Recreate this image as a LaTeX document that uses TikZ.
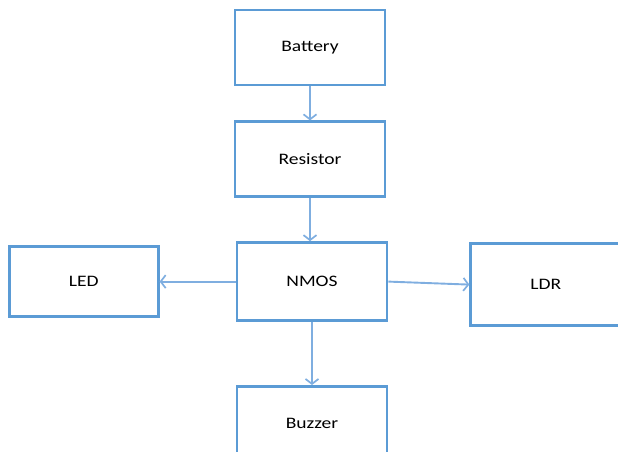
\documentclass[tikz,border=0pt]{standalone}
\usepackage{fontspec}
\setmainfont[FakeStretch=1.22]{Carlito}
\usetikzlibrary{arrows.meta,positioning}

\definecolor{boxblue}{HTML}{5B9BD5}
\definecolor{linkblue}{HTML}{7FAEE0}

\begin{document}
\begin{tikzpicture}[x=1pt, y=1pt, >={Straight Barb[length=5pt,width=13pt,line width=1.7pt]},
    block/.style={draw=boxblue, line width=2.8pt, rectangle, minimum width=150pt, minimum height=75pt, font=\fontsize{16}{19}\selectfont},
    link/.style={->, draw=linkblue, line width=1.9pt}]
    \useasboundingbox (0,0) rectangle (618,-452);
    \clip (0,0) rectangle (618,-452);

    \node [block] at (310,-47.5) (bat) {Battery};
    \node [block, below=34pt of bat] (res) {Resistor};
    \node [block, minimum height=78pt, below=43pt of res, xshift=2pt] (nmos) {NMOS};
    \node [block, minimum width=149pt, minimum height=70pt, left=76pt of nmos] (led) {LED};
    \node [block, minimum height=82pt, right=81pt of nmos, yshift=-3pt] (ldr) {LDR};
    \node [block, below=63pt of nmos] (buz) {Buzzer};

    \draw [link] (bat) -- (res);
    \draw [link] (res.south) -- (res.south |- nmos.north);
    \draw [link] (nmos) -- (led);
    \draw [link] (nmos.east) -- (ldr.west);
    \draw [link] (nmos) -- (buz);
\end{tikzpicture}
\end{document}
